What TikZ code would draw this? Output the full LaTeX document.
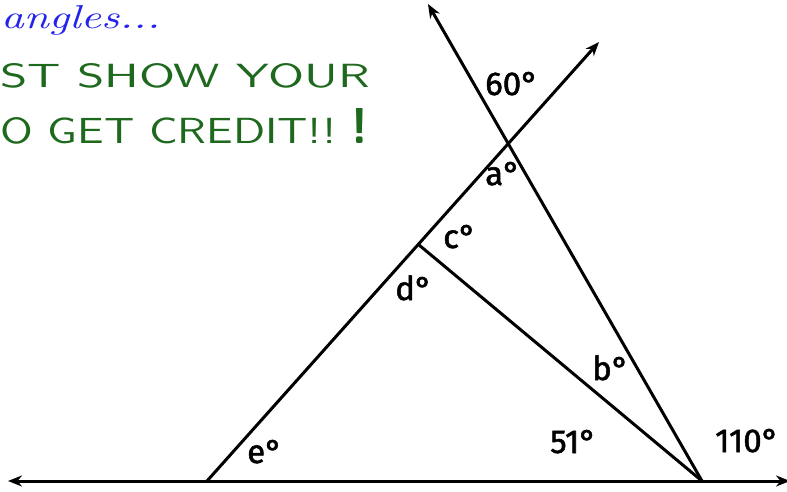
\documentclass[tikz,border=0pt]{standalone}
\usepackage{fontspec}
\newfontfamily\lblfont[FakeBold=1.6]{Fira Sans}
\usetikzlibrary{arrows.meta,calc}
\definecolor{hwblue}{RGB}{35,35,235}
\definecolor{hwgreen}{RGB}{30,105,30}
\tikzset{
  tip/.tip={Stealth[length=14pt,width=11pt]},
  ray/.style={line width=3pt, -tip},
  seg/.style={line width=3pt},
  lbl/.style={anchor=base west, inner sep=0pt, font=\lblfont\fontsize{33}{36}\selectfont},
  hw/.style={anchor=base west, inner sep=0pt}
}
\begin{document}
\begin{tikzpicture}[x=1pt,y=-1pt]
\useasboundingbox (0,0) rectangle (787,491);
\clip (0,0) rectangle (787,491);
% points
\coordinate (E) at (207,481);
\coordinate (B) at (702,481);
\coordinate (T1) at (428,4);
\coordinate (T2) at (599,42);
\coordinate (L) at (8,481);
\coordinate (R) at (790,481);
\coordinate (D) at ($(E)!0.539!(T2)$);
% lines
\draw[line width=3pt, tip-tip] (L) -- (R);
\draw[ray] (E) -- (T2);
\draw[ray] (B) -- (T1);
\draw[seg] (D) -- (B);
% labels
\node[lbl] (l60) at (485,95) {60°};
\node[lbl] (la) at (485,185) {a°};
\node[lbl] (lc) at (443,248) {c°};
\node[lbl] (ld) at (395,300) {d°};
\node[lbl] (lb) at (592,380) {b°};
\node[lbl] (le) at (247,463) {e°};
\node[lbl] (l51) at (550,453) {51°};
\node[lbl] (l110) at (715,452) {110°};
% handwritten text
\node[hw, text=hwblue] (t1) at (1,28) {\resizebox{159pt}{23pt}{\rmfamily\itshape angles...}};
\node[hw, text=hwgreen] (t2) at (0,87) {\resizebox{370pt}{24pt}{\sffamily ST SHOW YOUR}};
\node[hw, text=hwgreen] (t3) at (0,143) {\resizebox{336pt}{26pt}{\sffamily O GET CREDIT!!}};
\node[hw, text=hwgreen] (t4) at (350,143) {\resizebox{!}{35pt}{\sffamily\bfseries !}};
\end{tikzpicture}
\end{document}
